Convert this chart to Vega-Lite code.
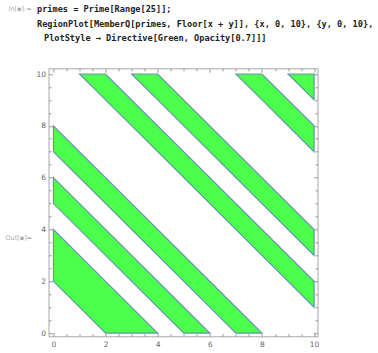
{
  "$schema": "https://vega.github.io/schema/vega-lite/v6.json",
  "width": 269,
  "height": 268,
  "autosize": {"type": "none"},
  "padding": {"left": 48.5, "top": 68.3, "right": 60.5, "bottom": 16.7},
  "background": "white",
  "data": {
    "values": [
      {"s": 1, "x": 0, "lo": 2, "hi": 4},
      {"s": 1, "x": 2, "lo": 0, "hi": 2},
      {"s": 1, "x": 4, "lo": 0, "hi": 0},
      {"s": 2, "x": 0, "lo": 5, "hi": 6},
      {"s": 2, "x": 5, "lo": 0, "hi": 1},
      {"s": 2, "x": 6, "lo": 0, "hi": 0},
      {"s": 3, "x": 0, "lo": 7, "hi": 8},
      {"s": 3, "x": 7, "lo": 0, "hi": 1},
      {"s": 3, "x": 8, "lo": 0, "hi": 0},
      {"s": 4, "x": 1, "lo": 10, "hi": 10},
      {"s": 4, "x": 2, "lo": 9, "hi": 10},
      {"s": 4, "x": 10, "lo": 1, "hi": 2},
      {"s": 5, "x": 3, "lo": 10, "hi": 10},
      {"s": 5, "x": 4, "lo": 9, "hi": 10},
      {"s": 5, "x": 10, "lo": 3, "hi": 4},
      {"s": 6, "x": 7, "lo": 10, "hi": 10},
      {"s": 6, "x": 8, "lo": 9, "hi": 10},
      {"s": 6, "x": 10, "lo": 7, "hi": 8},
      {"s": 7, "x": 9, "lo": 10, "hi": 10},
      {"s": 7, "x": 10, "lo": 9, "hi": 10}
    ]
  },
  "resolve": {"scale": {"x": "independent", "y": "independent"}},
  "layer": [
    {
      "mark": {"type": "area", "interpolate": "linear", "fill": "#4DFF4D", "stroke": "#5E81B5", "strokeWidth": 1.2, "strokeOpacity": 0.85, "clip": true},
      "encoding": {
        "x": {"field": "x", "type": "quantitative",
              "scale": {"domain": [-0.19, 10.13], "nice": false, "zero": false},
              "axis": {"orient": "bottom", "values": [0, 2, 4, 6, 8, 10], "ticks": false, "tickSize": 0, "labelPadding": 4, "labelFontSize": 7.5, "labelColor": "#666666", "labelFont": "DejaVu Sans", "labelBaseline": "top", "title": null}},
        "y": {"field": "hi", "type": "quantitative",
              "scale": {"domain": [-0.12, 10.22], "nice": false, "zero": false},
              "axis": {"orient": "left", "values": [0, 2, 4, 6, 8, 10], "ticks": false, "tickSize": 0, "labelPadding": 3, "labelFontSize": 7.5, "labelColor": "#666666", "labelFont": "DejaVu Sans", "title": null}},
        "y2": {"field": "lo"},
        "detail": {"field": "s", "type": "nominal"}
      }
    },
    {
      "mark": {"type": "point", "opacity": 0},
      "encoding": {
        "x": {"field": "x", "type": "quantitative",
              "scale": {"domain": [-0.19, 10.13], "nice": false, "zero": false},
              "axis": {"orient": "bottom", "values": [0, 2, 4, 6, 8, 10], "labels": false, "tickSize": -4, "tickColor": "#999999", "zindex": 2, "title": null}},
        "y": {"field": "lo", "type": "quantitative",
              "scale": {"domain": [-0.12, 10.22], "nice": false, "zero": false},
              "axis": {"orient": "left", "values": [0, 2, 4, 6, 8, 10], "labels": false, "tickSize": -4, "tickColor": "#999999", "zindex": 2,
                       "title": "Out[\u25aa]=", "titleAngle": 0, "titleX": -43.5, "titleY": 169, "titleAlign": "left", "titleBaseline": "middle", "titleFontSize": 6.5, "titleFontWeight": "normal", "titleColor": "#aaaaaa", "titleFont": "DejaVu Sans"}}
      }
    },
    {
      "mark": {"type": "point", "opacity": 0},
      "encoding": {
        "x": {"field": "x", "type": "quantitative",
              "scale": {"domain": [-0.19, 10.13], "nice": false, "zero": false},
              "axis": {"orient": "bottom", "values": [0.5, 1, 1.5, 2.5, 3, 3.5, 4.5, 5, 5.5, 6.5, 7, 7.5, 8.5, 9, 9.5], "labels": false, "tickSize": -2.5, "tickColor": "#999999", "zindex": 2, "title": null}},
        "y": {"field": "lo", "type": "quantitative",
              "scale": {"domain": [-0.12, 10.22], "nice": false, "zero": false},
              "axis": {"orient": "left", "values": [0.5, 1, 1.5, 2.5, 3, 3.5, 4.5, 5, 5.5, 6.5, 7, 7.5, 8.5, 9, 9.5], "labels": false, "tickSize": -2.5, "tickColor": "#999999", "zindex": 2, "title": null}}
      }
    },
    {
      "mark": {"type": "point", "opacity": 0},
      "encoding": {
        "x": {"field": "x", "type": "quantitative",
              "scale": {"domain": [-0.19, 10.13], "nice": false, "zero": false},
              "axis": {"orient": "top", "values": [0, 2, 4, 6, 8, 10], "labels": false, "tickSize": -4, "tickColor": "#999999", "zindex": 2,
                       "title": ["primes = Prime[Range[25]];", "RegionPlot[MemberQ[primes, Floor[x + y]], {x, 0, 10}, {y, 0, 10},", "\u2800PlotStyle \u2192 Directive[Green, Opacity[0.7]]]"],
                       "titleX": -12, "titleY": -63.8, "titleAlign": "left", "titleAnchor": "start", "titleBaseline": "top", "titleAngle": 0, "titleLineHeight": 14.5, "titleFontSize": 8.6, "titleFontWeight": "bold", "titleColor": "#222222", "titleFont": "DejaVu Sans Mono"}},
        "y": {"field": "lo", "type": "quantitative",
              "scale": {"domain": [-0.12, 10.22], "nice": false, "zero": false},
              "axis": {"orient": "right", "values": [0, 2, 4, 6, 8, 10], "labels": false, "tickSize": -4, "tickColor": "#999999", "zindex": 2, "title": null}}
      }
    },
    {
      "mark": {"type": "point", "opacity": 0},
      "encoding": {
        "x": {"field": "x", "type": "quantitative",
              "scale": {"domain": [-0.19, 10.13], "nice": false, "zero": false},
              "axis": {"orient": "top", "values": [0.5, 1, 1.5, 2.5, 3, 3.5, 4.5, 5, 5.5, 6.5, 7, 7.5, 8.5, 9, 9.5], "labels": false, "tickSize": -2.5, "tickColor": "#999999", "zindex": 2,
                       "title": "In[\u25aa]:=", "titleX": -40.5, "titleY": -60.3, "titleAlign": "left", "titleAnchor": "start", "titleBaseline": "middle", "titleAngle": 0, "titleFontSize": 6.5, "titleFontWeight": "normal", "titleColor": "#aaaaaa", "titleFont": "DejaVu Sans"}},
        "y": {"field": "lo", "type": "quantitative",
              "scale": {"domain": [-0.12, 10.22], "nice": false, "zero": false},
              "axis": {"orient": "right", "values": [0.5, 1, 1.5, 2.5, 3, 3.5, 4.5, 5, 5.5, 6.5, 7, 7.5, 8.5, 9, 9.5], "labels": false, "tickSize": -2.5, "tickColor": "#999999", "zindex": 2, "title": null}}
      }
    }
  ],
  "config": {
    "view": {"stroke": "#a8a8a8", "strokeWidth": 1},
    "axis": {"domain": false, "grid": false}
  }
}
